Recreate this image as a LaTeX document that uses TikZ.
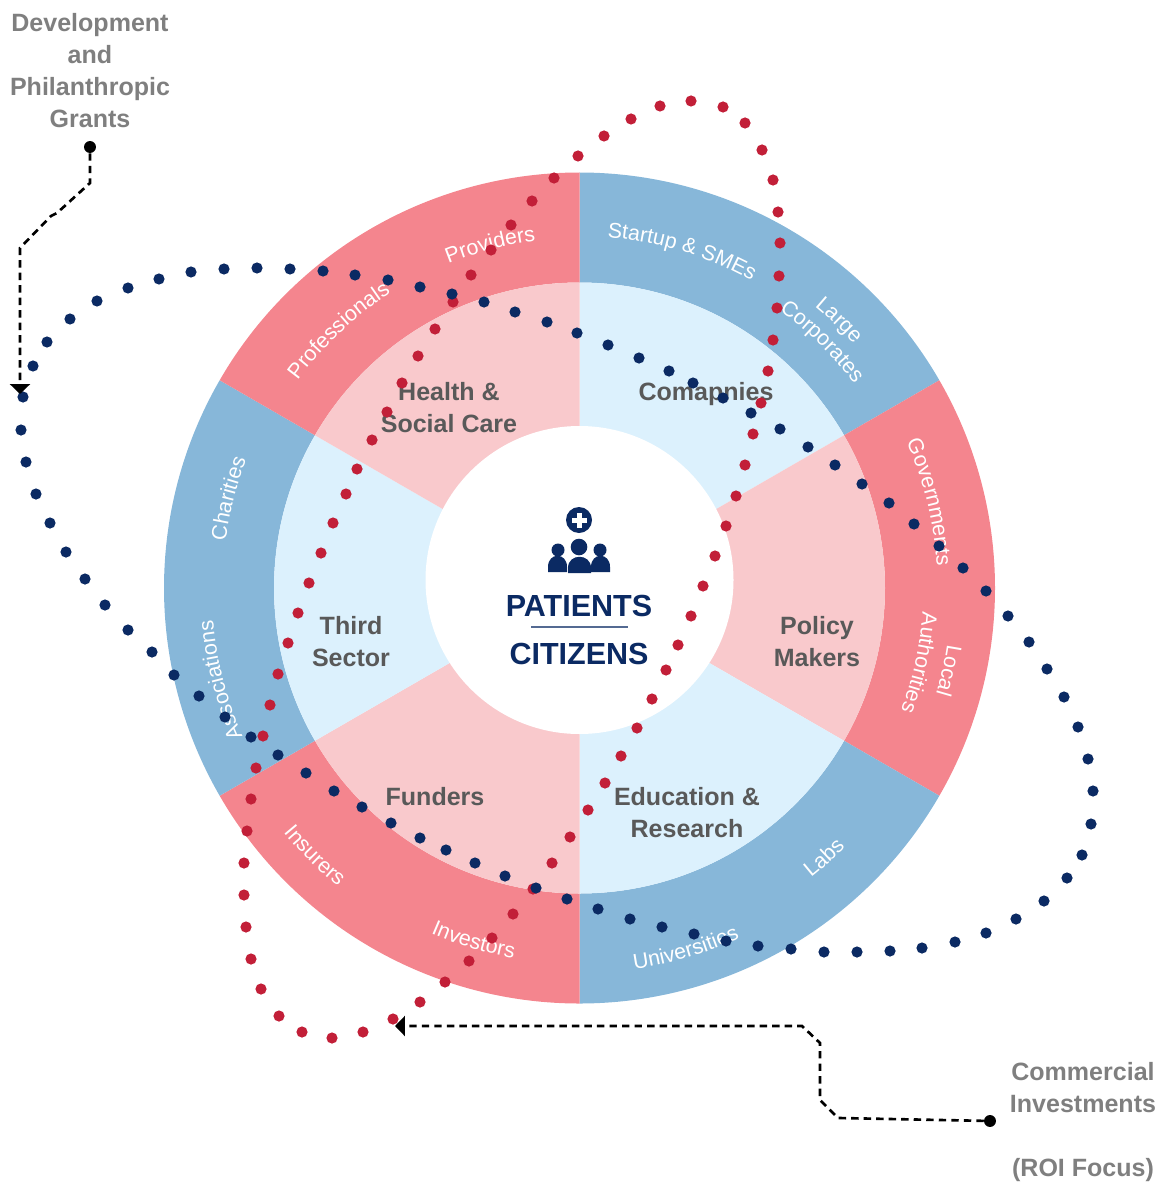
\documentclass[tikz,border=0pt]{standalone}
\usepackage{xcolor}
\usepackage{fontspec}
\setmainfont{Liberation Sans}
\usepackage{tikz}
\usetikzlibrary{arrows.meta,decorations.text}
\definecolor{ringblue}{HTML}{87B7D9}
\definecolor{ringred}{HTML}{F4858E}
\definecolor{paleblue}{HTML}{DCF1FD}
\definecolor{palered}{HTML}{F9C9CC}
\definecolor{navy}{HTML}{0B2A63}
\definecolor{dotred}{HTML}{C21F38}
\definecolor{sectorgray}{HTML}{595959}
\definecolor{sidegray}{HTML}{7F7F7F}
\newcommand{\ringfont}{\fontsize{15.2}{19}\selectfont}
% Texto blanco sobre el anillo: radio, angulo, texto
\newcommand{\cwlabel}[3]{\path[decorate,decoration={text along path,text align=center,text={|\ringfont\color{white}|#3}}] (#2+40:#1) arc (#2+40:#2-40:#1);}
\newcommand{\ccwlabel}[3]{\path[decorate,decoration={text along path,text align=center,text={|\ringfont\color{white}|#3}}] (#2-40:#1) arc (#2-40:#2+40:#1);}
\tikzset{
  sectorlabel/.style={text=sectorgray,align=center,font=\fontsize{17.8}{22.76}\selectfont\bfseries},
  sidelabel/.style={text=sidegray,align=center,font=\fontsize{17.8}{22.76}\selectfont\bfseries},
  titlelabel/.style={text=navy,font=\fontsize{21.7}{26}\selectfont\bfseries},
  flowdot/.style={circle,fill=black,inner sep=0pt,minimum size=8.5pt},
  flowline/.style={black,line width=1.9pt,dash pattern=on 5.3pt off 3.6pt,-{Triangle[width=14.2pt,length=7.1pt]}}
}
\begin{document}
\begin{tikzpicture}[x=0.025cm,y=-0.025cm]
  \useasboundingbox (0,0) rectangle (1164,1182);
  \begin{scope}[shift={(579.5,588)},y=0.025cm]
    % Sectores del anillo
    \foreach \a/\outercol/\innercol in {30/ringblue/paleblue,-30/ringred/palered,-90/ringblue/paleblue,210/ringred/palered,150/ringblue/paleblue,90/ringred/palered} {
      \fill[\outercol] (\a:415.5) arc (\a:\a+60:415.5) -- (\a+60:305.5) arc (\a+60:\a:305.5) -- cycle;
      \fill[\innercol] (\a:305.5) arc (\a:\a+60:305.5) -- (0,0) -- cycle;
    }
    % Etiquetas del anillo
    \cwlabel{352}{73.1}{Startup {\&} SMEs}
    \cwlabel{367}{45.9}{Large}
    \cwlabel{342}{45.4}{Corporates}
    \cwlabel{358}{13.8}{Governments}
    \cwlabel{372}{-12.6}{Local}
    \cwlabel{344}{-12.4}{Authorities}
    \ccwlabel{371}{-47.8}{Labs}
    \ccwlabel{385}{-73.6}{Universities}
    \ccwlabel{376}{-106.7}{Investors}
    \ccwlabel{384}{-134.7}{Insurers}
    \cwlabel{368}{194.4}{Associations}
    \cwlabel{357}{165.7}{Charities}
    \cwlabel{350}{133.1}{Professionals}
    \cwlabel{350}{104.6}{Providers}
  \end{scope}
  % Hueco central
  \fill[white] (579.5,580) circle (154);
  % Etiquetas de los sectores
  \node[sectorlabel] (health) at (449,408) {Health \&\\Social Care};
  \node[sectorlabel] (companies) at (706,394.5) {Comapnies};
  \node[sectorlabel] (policy) at (817,642) {Policy\\Makers};
  \node[sectorlabel] (education) at (687,813) {Education \&\\Research};
  \node[sectorlabel] (funders) at (435,797) {Funders};
  \node[sectorlabel] (third) at (351,642) {Third\\Sector};
  % Centro
  \node[titlelabel] (patients) at (579,606) {PATIENTS};
  \node[titlelabel] (citizens) at (579,654) {CITIZENS};
  \draw[navy!70,line width=0.9pt] (531,627) -- (628,627);
  \fill[navy] (579,520) circle (13);
  \fill[white] (571.5,517.5) rectangle (587,522.5);
  \fill[white] (576.7,512.5) rectangle (581.7,527.5);
  \fill[navy] (579,547) circle (8.3);
  \fill[navy] (558,550) circle (6.5);
  \fill[navy] (600,550) circle (6.5);
  \fill[navy] (568,573) -- (568,568) .. controls (568,553) and (591,553) .. (591,568) -- (591,573) -- cycle;
  \fill[navy] (548,572) -- (548,567) .. controls (548,552) and (567,552) .. (567,567) -- (567,572) -- cycle;
  \fill[navy] (591,572) -- (591,567) .. controls (591,552) and (610,552) .. (610,567) -- (610,572) -- cycle;
  % Puntos rojos
  \foreach \x/\y in {393/1019,420/1002,445/982,469/961,492/938,513/914,533/889,552/863,570/837,588/810,605/783,621/756,637/728,652/699,666/670,678/645,691/616,703/586,715/556,726/526,736/496,745/465,753/434,761/403,768/371,773/340,777/308,779/276,780/243,778/212,773/180,762/150,745/123,723/107,691/101,660/106,631/119,604/136,578/156,554/178,532/201,511/225,491/250,471/275,453/302,435/329,418/356,402/383,387/412,372/440,357/469,346/494,333/523,321/553,309/583,298/613,288/643,278/674,270/705,263/736,256/768,251/799,247/831,244/863,244/895,246/927,251/959,261/989,279/1016,302/1032,332/1038,363/1032}
    \fill[dotred] (\x,\y) circle (5.6);
  % Puntos azules
  \foreach \x/\y in {23/397,21/430,26/462,36/494,50/523,66/552,85/579,105/605,128/630,152/652,174/675,199/696,225/717,251/737,278/755,306/773,334/791,362/807,391/823,420/838,446/850,475/863,505/876,536/888,567/899,598/909,630/919,662/927,694/934,726/941,758/946,791/949,824/952,857/952,890/951,922/948,955/942,986/933,1016/919,1044/901,1067/878,1082/855,1091/824,1093/791,1088/759,1078/727,1064/697,1047/669,1029/642,1008/616,986/591,963/568,939/546,914/524,889/503,862/484,835/465,808/447,780/429,751/413,723/398,693/383,669/371,639/358,608/345,577/333,547/322,515/312,484/302,452/294,420/287,388/280,355/275,323/271,290/269,257/268,224/269,191/272,159/279,128/288,97/301,70/319,47/342,33/366}
    \fill[navy] (\x,\y) circle (5.6);
  % Textos laterales
  \node[sidelabel] (grants) at (90,71) {Development\\and\\Philanthropic\\Grants};
  \node[sidelabel] (invest) at (1083,1122.5) {Commercial\\Investments\\ \\(ROI Focus)};
  % Lineas de flujo
  \node[flowdot] (grantsdot) at (90,147) {};
  \coordinate (grantstip) at (20,394);
  \draw[flowline] (grantsdot) -- (90,183) -- (57,213) -- (51,216) -- (20,248) -- (grantstip);
  \node[flowdot] (investdot) at (990,1121) {};
  \coordinate (investtip) at (395,1026);
  \draw[flowline] (investdot) -- (838,1118) -- (820,1100) -- (820,1043) -- (802,1026) -- (investtip);
\end{tikzpicture}
\end{document}
